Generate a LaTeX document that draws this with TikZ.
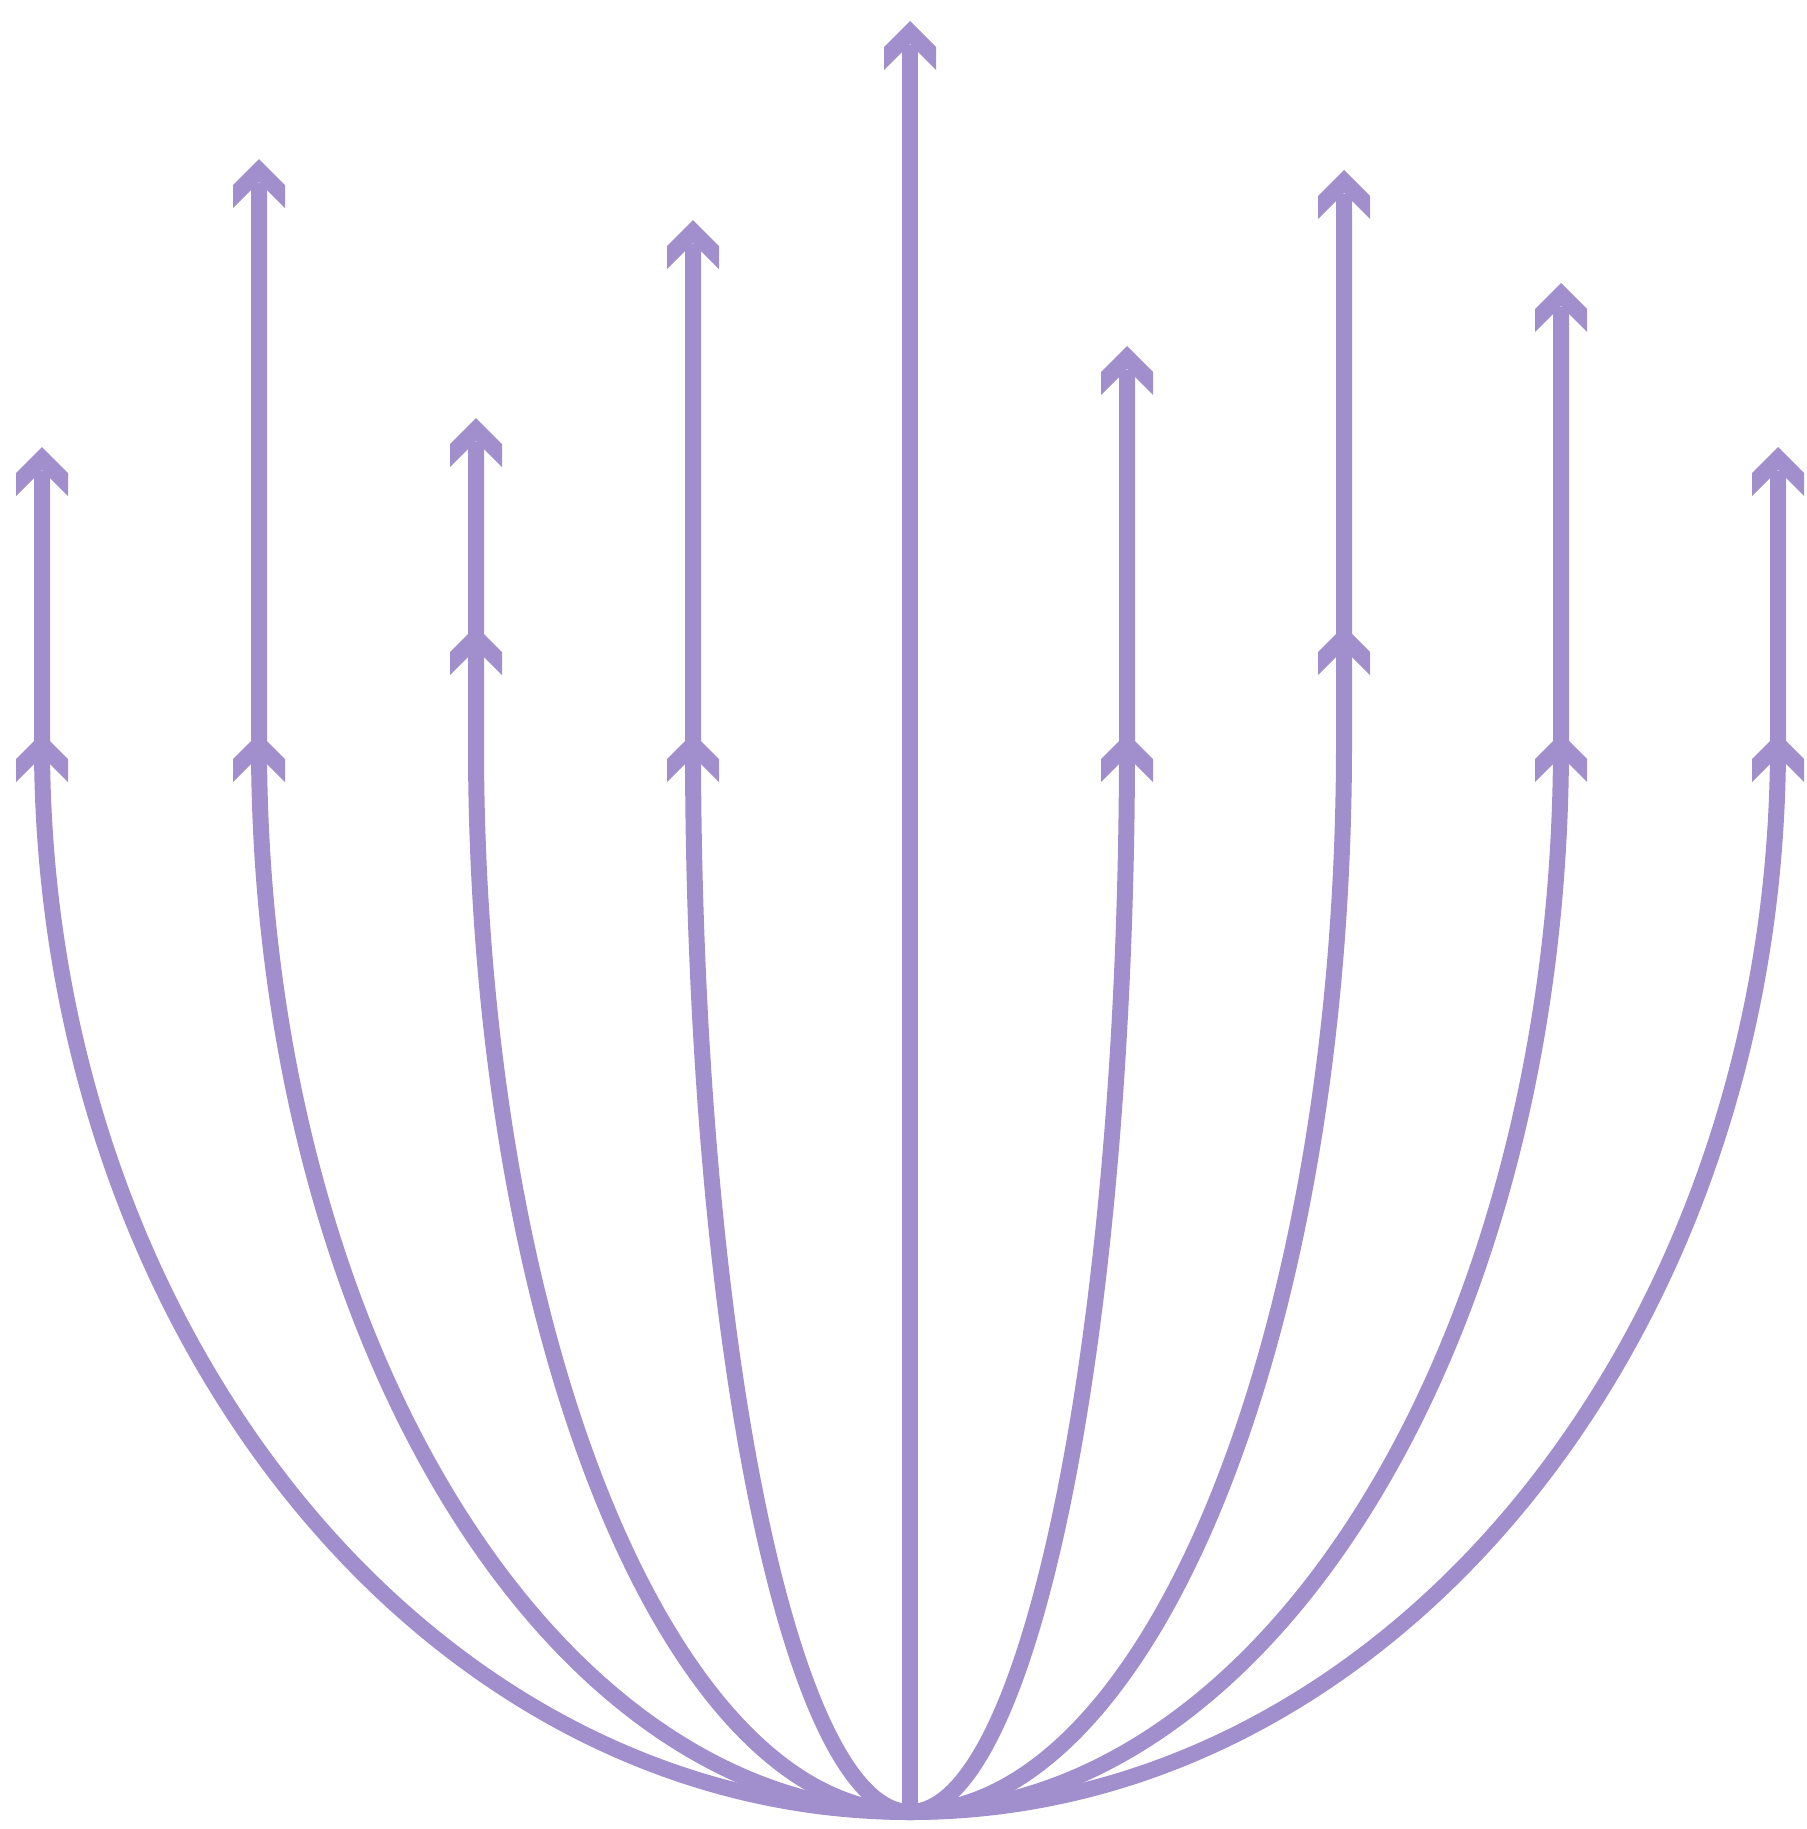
\documentclass[tikz,border=0pt]{standalone}
\definecolor{lilac}{RGB}{161,143,205}
\newcommand\chev[1]{\fill[lilac] (#1) -- ++(26,26) -- ++(0,23) -- ++(-26,-26) -- ++(-26,26) -- ++(0,-23) -- cycle;}
\begin{document}
\begin{tikzpicture}[x=0.75pt,y=0.75pt,yscale=-1,xscale=1,
  stem/.style={draw=lilac,line width=12pt}]
\useasboundingbox (0,0) rectangle (1807,1829);
\coordinate (base) at (910,1812);
%centre stem
\coordinate (ctop) at (910,21);
\draw[stem] (base) -- (910,45);
\chev{ctop}
%side stems: x / top tip / middle tip
\foreach \x/\t/\m [count=\i] in {42/447/733, 259/159/733, 476/418/626, 693/220/733, 1127/346/733, 1344/170/626, 1561/283/733, 1778/447/733}{
  \pgfmathsetmacro\r{abs(\x-910)}
  \pgfmathsetmacro\e{\x<910 ? 180 : 0}
  \coordinate (top\i) at (\x,\t);
  \coordinate (mid\i) at (\x,\m);
  \draw[stem] (base) arc[start angle=90,end angle=\e,x radius=\r,y radius=1067] -- (\x,\t+24);
  \chev{top\i}
  \chev{mid\i}
}
\end{tikzpicture}
\end{document}
